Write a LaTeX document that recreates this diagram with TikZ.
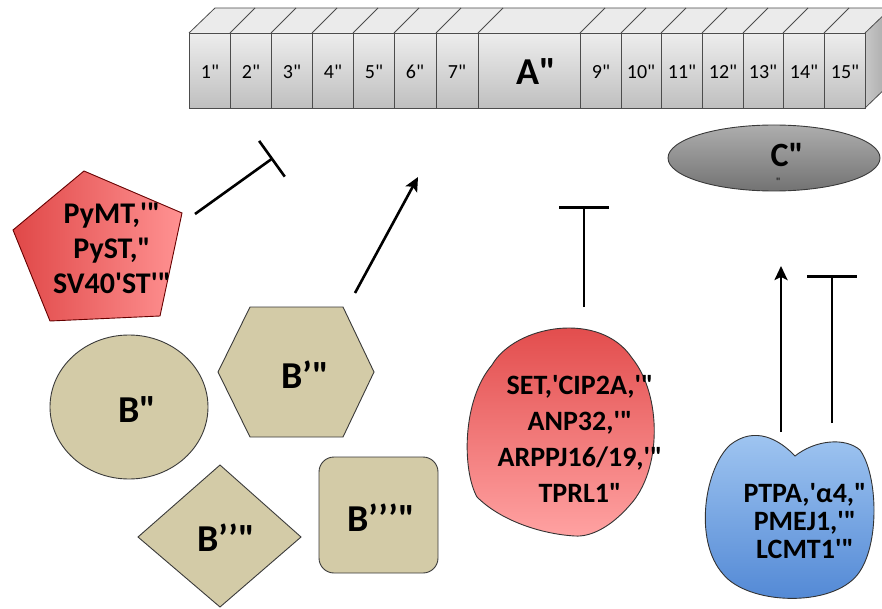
\documentclass[tikz,border=0pt]{standalone}
\usepackage{fontspec}
\setmainfont{Carlito}[Ligatures=TeXOff]
\usetikzlibrary{arrows.meta}

\definecolor{bfill}{HTML}{D3CBA7}
\definecolor{edgec}{HTML}{3A3A3A}
\definecolor{bluetop}{HTML}{A3C8F2}
\definecolor{bluebot}{HTML}{4F86D4}
\definecolor{redtop}{HTML}{E04646}
\definecolor{redbot}{HTML}{FFA2A2}
\definecolor{pentleft}{HTML}{E04848}
\definecolor{pentright}{HTML}{FF9292}

\tikzset{
  seglabel/.style={font=\fontsize{20}{22}\selectfont, text=black},
  biglabel/.style={font=\bfseries\fontsize{38}{40}\selectfont},
  midlabel/.style={font=\bfseries\fontsize{34}{36}\selectfont},
  listlabel/.style={align=center, font=\bfseries\fontsize{30}{35}\selectfont},
  tanshape/.style={fill=bfill, draw=edgec, line width=0.9pt},
  wire/.style={line width=2.6pt, black},
  actarrow/.style={wire, -{Stealth[length=14pt,width=13pt,inset=3pt]}},
  blockarrow/.style={wire, -{Bar[width=#1,line width=2.6pt]}},
  barline/.style={draw=black!70, line width=0.8pt}
}

\begin{document}
\begin{tikzpicture}[x=1pt,y=-1pt]
\useasboundingbox (0,0) rectangle (882,609);
\clip (0,0) rectangle (882,609);

% ---- segmented bar ----
\fill[black!8] (189,33) -- (215,8) -- (891,8) -- (865,33) -- cycle;
\shade[left color=black!22, right color=black!35] (865,33) -- (891,8) -- (891,83) -- (865,108) -- cycle;
\shade[top color=black!7, bottom color=black!25] (189,33) rectangle (865,108);
\draw[barline] (189,33) rectangle (865,108);
\draw[barline] (189,33) -- (215,8) -- (891,8);
\draw[barline] (865,33) -- (891,8) -- (891,83) -- (865,108);
\foreach \x in {230,271,312,353,394,436,478,580,621,661,702,743,783,824}{
  \draw[barline] (\x,33) -- (\x,108);
  \draw[barline] (\x,33) -- ++(25,-25);
}
\node[seglabel] (s1) at (210,72) {1"};
\node[seglabel] (s2) at (251,72) {2"};
\node[seglabel] (s3) at (292,72) {3"};
\node[seglabel] (s4) at (333,72) {4"};
\node[seglabel] (s5) at (374,72) {5"};
\node[seglabel] (s6) at (415,72) {6"};
\node[seglabel] (s7) at (457,72) {7"};
\node[biglabel, font=\bfseries\fontsize{38}{40}\selectfont] (sA) at (536,72) {A"};
\node[seglabel] (s9) at (601,72) {9"};
\node[seglabel] (s10) at (641,72) {10"};
\node[seglabel] (s11) at (682,72) {11"};
\node[seglabel] (s12) at (723,72) {12"};
\node[seglabel] (s13) at (763,72) {13"};
\node[seglabel] (s14) at (804,72) {14"};
\node[seglabel] (s15) at (845,72) {15"};

% ---- C ellipse ----
\shade[top color=black!32, bottom color=black!55, draw=edgec, line width=0.9pt]
  (774,158) ellipse [x radius=106, y radius=33];
\node[midlabel] (cl) at (787,155) {C"};
\node[font=\fontsize{11}{11}\selectfont] (cq) at (778,182) {"};

% ---- red pentagon ----
\shade[left color=pentleft, right color=pentright, draw=red!40!black, line width=0.9pt]
  (13,230) -- (84,171) -- (182,213) -- (160,316) -- (50,321) -- cycle;
\node[listlabel] (pent) at (112,248) {PyMT,'"\\PyST,"\\SV40'ST'"};

% ---- tan shapes ----
\filldraw[tanshape] (129,407) ellipse [x radius=79, y radius=72];
\node[biglabel] (bc) at (137,410) {B"};

\filldraw[tanshape] (218,372) -- (250,307) -- (343,307) -- (374,372) -- (343,437) -- (250,437) -- cycle;
\node[biglabel] (bh) at (305,375) {B’"};

\filldraw[tanshape] (220,465) -- (301,537) -- (220,607) -- (138,537) -- cycle;
\node[biglabel] (bd) at (226,538) {B’’"};

\filldraw[tanshape, rounded corners=15pt] (319,457) rectangle (438,573);
\node[biglabel] (bs) at (381,518) {B’’’"};

% ---- red blob ----
\shade[top color=redtop, bottom color=redbot, draw=black!80, line width=0.9pt]
  (477,497) .. controls (462,470) and (462,400) .. (492,365)
  .. controls (515,325) and (600,310) .. (632,358)
  .. controls (662,395) and (662,470) .. (630,505)
  .. controls (610,528) and (590,537) .. (575,536)
  .. controls (540,534) and (500,520) .. (477,497) -- cycle;
\node[listlabel, font=\bfseries\fontsize{28}{36}\selectfont] (red) at (580,439)
  {SET,'CIP2A,'"\\ANP32,'"\\ARPPJ16/19,'"\\TPRL1"};

% ---- blue shape ----
\shade[top color=bluetop, bottom color=bluebot, draw=black!80, line width=0.9pt]
  (795,456) .. controls (780,440) and (755,425) .. (730,445)
  .. controls (705,468) and (693,540) .. (723,574)
  .. controls (748,605) and (832,608) .. (858,574)
  .. controls (880,545) and (878,475) .. (860,450)
  .. controls (845,437) and (815,440) .. (795,456) -- cycle;
\node[listlabel, font=\bfseries\fontsize{28}{28}\selectfont] (blue) at (805,521)
  {PTPA,'α4,"\\PMEJ1,'"\\LCMT1'"};

% ---- connectors ----
\coordinate (pentout) at (195,214);
\coordinate (pentend) at (273,158);
\coordinate (hexout) at (355,293);
\coordinate (hexend) at (418,177);
\coordinate (redout) at (584,307);
\coordinate (redend) at (584,206);
\coordinate (blueoutA) at (781,432);
\coordinate (blueendA) at (781,266);
\coordinate (blueoutB) at (832,423);
\coordinate (blueendB) at (832,275);

\draw[blockarrow=44pt] (pentout) -- (pentend);
\draw[actarrow] (hexout) -- (hexend);
\draw[blockarrow=50pt] (redout) -- (redend);
\draw[actarrow] (blueoutA) -- (blueendA);
\draw[blockarrow=50pt] (blueoutB) -- (blueendB);
\end{tikzpicture}
\end{document}
